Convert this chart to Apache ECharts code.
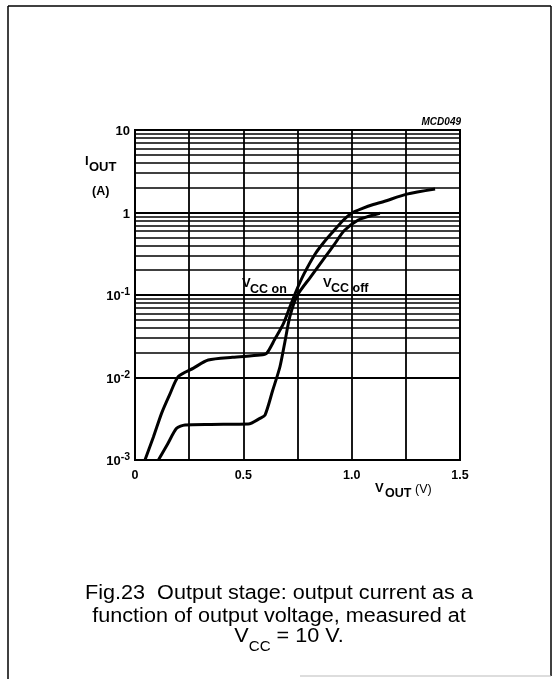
<!DOCTYPE html>
<html><head><meta charset="utf-8">
<script src="https://cdn.jsdelivr.net/npm/echarts@6/dist/echarts.min.js"></script>
<style>html,body{margin:0;padding:0;background:#fff}#c{width:556px;height:679px}</style>
</head><body><div id="c"></div>
<script>
// ---- data ----
const vOutOn = [0.046, 0.085, 0.123, 0.16, 0.2, 0.27, 0.338, 0.45, 0.577, 0.608, 0.645, 0.685, 0.715, 0.746, 0.78, 0.83, 0.87, 0.915, 0.96, 1.0, 1.05, 1.1, 1.146, 1.254, 1.385];
const iOutOn = [0.001, 0.0019, 0.0037, 0.0062, 0.0103, 0.013, 0.0163, 0.0176, 0.0187, 0.0197, 0.029, 0.045, 0.072, 0.115, 0.18, 0.31, 0.43, 0.59, 0.8, 0.98, 1.12, 1.25, 1.35, 1.67, 1.93];
const vOutOff = [0.108, 0.15, 0.192, 0.231, 0.35, 0.523, 0.577, 0.6, 0.635, 0.669, 0.69, 0.715, 0.75, 0.81, 0.877, 0.92, 0.965, 1.03, 1.08, 1.13];
const iOutOff = [0.001, 0.00155, 0.00242, 0.00266, 0.0027, 0.00273, 0.0032, 0.0035, 0.0069, 0.0135, 0.0255, 0.055, 0.1, 0.165, 0.288, 0.41, 0.6, 0.81, 0.9, 0.98];

const xTickValues = [0, 0.5, 1.0, 1.5];
const xTickLabels = ['0', '0.5', '1.0', '1.5'];
const yTickValues = [0.001, 0.01, 0.1, 1, 10];
const yTickBase = ['10', '10', '10', '1', '10'];
const yTickExp = ['-3', '-2', '-1', '', ''];
const minorMultipliers = [2, 3, 4, 5, 6, 7, 8, 9];

const FONT = 'Liberation Sans, Arial, sans-serif';

const onData = vOutOn.map((v, i) => [v, iOutOn[i]]);
const offData = vOutOff.map((v, i) => [v, iOutOff[i]]);

const minorLines = [];
yTickValues.slice(0, 4).forEach(d => minorMultipliers.forEach(m => minorLines.push({ yAxis: +(d * m).toPrecision(6) })));
const majorLines = yTickValues.slice(1, 4).map(v => ({ yAxis: v }));

const chart = echarts.init(document.getElementById('c'), null, { renderer: 'canvas' });

function txt(text, x, y, size, weight, opts, extra) {
  return Object.assign({
    type: 'text', silent: true, z: 100,
    style: Object.assign({ text: text, x: x, y: y, font: (weight || 'bold') + ' ' + size + 'px ' + FONT, fill: '#000', align: 'left', verticalAlign: 'top' }, opts || {})
  }, extra || {});
}

const capScale = 1.08;
function caption(text, cx, cy) {
  return {
    type: 'text', silent: true, z: 100, x: cx, y: cy, scaleX: capScale, scaleY: 1,
    style: { text: text, x: 0, y: 0, font: 'normal 20px ' + FONT, fill: '#000', align: 'center', verticalAlign: 'middle' }
  };
}

chart.setOption({
  animation: false,
  backgroundColor: '#fff',
  grid: { left: 135, top: 130, width: 325, height: 330, show: true, borderColor: '#000', borderWidth: 2, backgroundColor: 'transparent', containLabel: false, outerBoundsMode: 'none' },
  xAxis: {
    type: 'value', min: 0, max: 1.5, interval: 0.25,
    axisLine: { show: false }, axisTick: { show: false },
    splitLine: { show: true, lineStyle: { color: '#000', width: 1.8 } },
    axisLabel: {
      margin: 9, color: '#000', fontFamily: FONT, fontWeight: 'bold', fontSize: 12.5,
      formatter: v => { const k = xTickValues.findIndex(t => Math.abs(t - v) < 1e-6); return k < 0 ? '' : xTickLabels[k]; }
    }
  },
  yAxis: {
    type: 'log', logBase: 10, min: 0.001, max: 10,
    axisLine: { show: false }, axisTick: { show: false }, splitLine: { show: false },
    axisLabel: {
      margin: 5, color: '#000',
      formatter: v => {
        const k = yTickValues.findIndex(t => Math.abs(Math.log10(t) - Math.log10(v)) < 1e-6);
        if (k < 0) return '';
        return yTickExp[k] ? '{b|' + yTickBase[k] + '}{s|' + yTickExp[k] + '}' : '{b|' + yTickBase[k] + '}';
      },
      rich: {
        b: { fontFamily: FONT, fontWeight: 'bold', fontSize: 13, lineHeight: 16, verticalAlign: 'bottom', color: '#000' },
        s: { fontFamily: FONT, fontWeight: 'bold', fontSize: 10.5, lineHeight: 9, verticalAlign: 'top', color: '#000' }
      }
    }
  },
  series: [
    {
      name: 'VCC on', type: 'line', data: onData, showSymbol: false, smooth: 0.25,
      lineStyle: { color: '#000', width: 3 }, z: 5,
      markLine: {
        silent: true, symbol: ['none', 'none'], label: { show: false }, animation: false,
        lineStyle: { color: '#000', width: 1.5, type: 'solid' },
        data: minorLines
      }
    },
    {
      name: 'VCC off', type: 'line', data: offData, showSymbol: false, smooth: 0.25,
      lineStyle: { color: '#000', width: 3 }, z: 5,
      markLine: {
        silent: true, symbol: ['none', 'none'], label: { show: false }, animation: false,
        lineStyle: { color: '#000', width: 1.8, type: 'solid' },
        data: majorLines
      }
    }
  ],
  graphic: [
    // outer frame
    { type: 'line', silent: true, shape: { x1: 8, y1: 6, x2: 8, y2: 679 }, style: { stroke: '#000', lineWidth: 1.5 } },
    { type: 'line', silent: true, shape: { x1: 8, y1: 6, x2: 551, y2: 6 }, style: { stroke: '#000', lineWidth: 1.5 } },
    { type: 'line', silent: true, shape: { x1: 551, y1: 6, x2: 551, y2: 676 }, style: { stroke: '#000', lineWidth: 1.5 } },
    { type: 'line', silent: true, shape: { x1: 300, y1: 676, x2: 551, y2: 676 }, style: { stroke: '#bbb', lineWidth: 1 } },
    txt('MCD049', 461, 122, 10, 'italic bold', { align: 'right', verticalAlign: 'middle' }),
    txt('I', 85, 155, 13, 'bold'),
    txt('OUT', 89, 161, 13, 'bold'),
    txt('(A)', 92, 185, 12.5, 'bold'),
    txt('V', 375, 482, 13, 'bold'),
    txt('OUT', 385, 487, 12.5, 'bold'),
    txt('(V)', 415, 483, 12.5, 'normal'),
    txt('V', 242, 277, 13, 'bold'),
    txt('CC on', 250, 283, 12.5, 'bold'),
    txt('V', 323, 277, 13, 'bold'),
    txt('CC off', 331, 282, 12.5, 'bold'),
    caption('Fig.23  Output stage: output current as a', 279, 593),
    caption('function of output voltage, measured at', 279, 616),
    {
      type: 'text', silent: true, z: 100, x: 289, y: 640, scaleX: capScale, scaleY: 1,
      style: {
        x: 0, y: 0, align: 'center', verticalAlign: 'middle',
        text: '{a|V}{b|CC}{a| = 10 V.}',
        rich: {
          a: { fontFamily: FONT, fontSize: 20, lineHeight: 20, verticalAlign: 'top', fill: '#000', color: '#000' },
          b: { fontFamily: FONT, fontSize: 14, lineHeight: 28, verticalAlign: 'bottom', fill: '#000', color: '#000' }
        }
      }
    }
  ]
});
</script>
</body></html>
